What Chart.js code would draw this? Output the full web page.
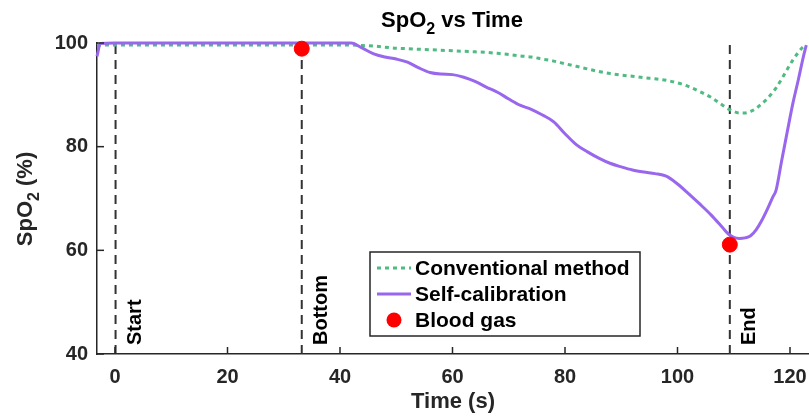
<!DOCTYPE html>
<html>
<head>
<meta charset="utf-8">
<script src="https://cdn.jsdelivr.net/npm/chart.js@4.4.1/dist/chart.umd.min.js"></script>
<style>body{margin:0;background:#fff}</style>
</head>
<body>
<canvas id="c" width="809" height="419"></canvas>
<script>
// time axis (s), shared by both SpO2 traces
const timeS = [-3.2, -2.6, 0, 10, 20, 30, 40, 42, 44, 46, 48, 50, 52, 54, 56, 58, 60, 62, 64, 66, 68, 70, 72, 74, 76, 78, 80, 82, 84, 86, 88, 90, 92, 94, 96, 98, 100, 102, 104, 106, 108, 109, 110, 111, 112, 113, 114, 115, 116, 117, 117.5, 118.5, 119.5, 120.5, 121.5, 122.3, 122.9];
const conventional = [99.5, 99.6, 99.6, 99.6, 99.6, 99.6, 99.6, 99.6, 99.5, 99.4, 99.2, 99.0, 98.9, 98.8, 98.7, 98.6, 98.5, 98.4, 98.3, 98.2, 98.0, 97.8, 97.5, 97.3, 96.9, 96.5, 96.0, 95.5, 95.0, 94.5, 94.1, 93.8, 93.6, 93.3, 93.1, 92.8, 92.3, 91.6, 90.6, 89.5, 88.0, 87.3, 86.8, 86.5, 86.5, 86.8, 87.4, 88.3, 89.3, 90.6, 91.3, 93.0, 94.9, 96.7, 98.2, 99.2, 99.6];
const selfCal = [97.4, 99.9, 100, 100, 100, 100, 100, 100, 99.0, 97.9, 97.3, 96.9, 96.3, 95.2, 94.3, 94.0, 93.9, 93.4, 92.6, 91.5, 90.5, 89.2, 88.0, 87.2, 86.1, 84.8, 82.5, 80.4, 79.0, 77.8, 76.8, 76.1, 75.5, 75.1, 74.8, 74.3, 72.8, 70.9, 68.9, 66.8, 64.4, 63.2, 62.5, 62.3, 62.4, 62.8, 64.0, 65.8, 68.0, 70.4, 71.5, 77.2, 82.8, 88.3, 93.0, 97.0, 99.6];
const bloodTimes = [33.2, 109.3];
const bloodValues = [98.9, 61.1];
const eventTimes = [0.1, 33.2, 109.3];
const eventLabels = ['Start', 'Bottom', 'End'];
const xTicks = [0, 20, 40, 60, 80, 100, 120];
const yTicks = [40, 60, 80, 100];

const FONT = '"Liberation Sans", Arial, Helvetica, sans-serif';
const AXIS = '#262626';
const GREEN = '#4fbb82';
const PURPLE = '#9966ee';

const pts = (xs, ys) => xs.map((v, i) => ({x: v, y: ys[i]}));

// text with a subscript part: parts = [main, sub, main, ...]
function drawSub(ctx, parts, cx, cy, size) {
  const big = 'bold ' + size + 'px ' + FONT;
  const small = 'bold ' + Math.round(size * 0.72) + 'px ' + FONT;
  let total = 0;
  parts.forEach((p, i) => { ctx.font = i % 2 ? small : big; total += ctx.measureText(p).width; });
  let x = cx - total / 2;
  ctx.textAlign = 'left';
  ctx.textBaseline = 'alphabetic';
  parts.forEach((p, i) => {
    ctx.font = i % 2 ? small : big;
    ctx.fillText(p, x, cy + (i % 2 ? size * 0.3 : 0));
    x += ctx.measureText(p).width;
  });
}

const extras = {
  id: 'extras',
  afterDraw(chart) {
    const {ctx, chartArea: a, scales: {x, y}} = chart;
    ctx.save();
    // inward ticks like matlab
    ctx.strokeStyle = AXIS;
    ctx.lineWidth = 1.5;
    xTicks.forEach(t => {
      const px = x.getPixelForValue(t);
      ctx.beginPath(); ctx.moveTo(px, a.bottom); ctx.lineTo(px, a.bottom - 7); ctx.stroke();
    });
    yTicks.forEach(t => {
      const py = y.getPixelForValue(t);
      ctx.beginPath(); ctx.moveTo(a.left, py); ctx.lineTo(a.left + 7, py); ctx.stroke();
    });

    // event labels next to the dashed lines
    ctx.fillStyle = '#000';
    ctx.font = 'bold 20px ' + FONT;
    eventTimes.forEach((t, i) => {
      ctx.save();
      ctx.translate(x.getPixelForValue(t) + 25, 345);
      ctx.rotate(-Math.PI / 2);
      ctx.textAlign = 'left';
      ctx.textBaseline = 'alphabetic';
      ctx.fillText(eventLabels[i], 0, 0);
      ctx.restore();
    });

    // titles
    ctx.fillStyle = '#000';
    drawSub(ctx, ['SpO', '2', ' vs Time'], 452, 27, 22);
    ctx.fillStyle = AXIS;
    ctx.font = 'bold 22px ' + FONT;
    ctx.textAlign = 'center';
    ctx.fillText('Time (s)', 453, 408);
    ctx.save();
    ctx.translate(32, 199);
    ctx.rotate(-Math.PI / 2);
    drawSub(ctx, ['SpO', '2', ' (%)'], 0, 0, 22);
    ctx.restore();

    // legend
    const lx = 370, ly = 252, lw = 270, lh = 84;
    ctx.fillStyle = '#fff';
    ctx.fillRect(lx, ly, lw, lh);
    ctx.strokeStyle = AXIS;
    ctx.lineWidth = 1.5;
    ctx.strokeRect(lx, ly, lw, lh);
    const rows = [268, 294, 320];
    const ds = chart.data.datasets;
    [ds[0], ds[1]].forEach((d, i) => {
      ctx.strokeStyle = d.borderColor;
      ctx.lineWidth = d.borderWidth;
      ctx.setLineDash(d.borderDash || []);
      ctx.beginPath(); ctx.moveTo(377, rows[i]); ctx.lineTo(411, rows[i]); ctx.stroke();
    });
    ctx.setLineDash([]);
    ctx.fillStyle = ds[2].backgroundColor;
    ctx.beginPath(); ctx.arc(394, rows[2], 7.5, 0, Math.PI * 2); ctx.fill();
    ctx.fillStyle = '#000';
    ctx.font = 'bold 21px ' + FONT;
    ctx.textAlign = 'left';
    ctx.textBaseline = 'middle';
    [ds[0], ds[1], ds[2]].forEach((d, i) => ctx.fillText(d.label, 415, rows[i] + 1));
    ctx.restore();
  }
};

const eventSets = eventTimes.map(t => ({
  label: 'event',
  data: [{x: t, y: 40}, {x: t, y: 100}],
  borderColor: '#333333',
  borderWidth: 2,
  borderDash: [9, 6],
  pointRadius: 0,
  order: 3
}));

new Chart(document.getElementById('c'), {
  type: 'line',
  data: {
    datasets: [{
      label: 'Conventional method',
      data: pts(timeS, conventional),
      borderColor: GREEN,
      borderWidth: 3,
      borderDash: [4, 4],
      pointRadius: 0,
      cubicInterpolationMode: 'monotone',
      clip: 6,
      order: 2
    }, {
      label: 'Self-calibration',
      data: pts(timeS, selfCal),
      borderColor: PURPLE,
      borderWidth: 3,
      pointRadius: 0,
      cubicInterpolationMode: 'monotone',
      clip: 6,
      order: 1
    }, {
      label: 'Blood gas',
      data: pts(bloodTimes, bloodValues),
      showLine: false,
      backgroundColor: '#ff0000',
      borderColor: '#ff0000',
      pointRadius: 7.5,
      clip: 10,
      order: 0
    }, ...eventSets]
  },
  options: {
    responsive: false,
    animation: false,
    layout: {autoPadding: false, padding: {top: 43, right: 1, left: 0, bottom: 0}},
    plugins: {legend: {display: false}, tooltip: {enabled: false}, title: {display: false}},
    scales: {
      x: {
        type: 'linear',
        min: -3.2,
        max: 123.2,
        afterBuildTicks: s => { s.ticks = xTicks.map(v => ({value: v})); },
        afterFit: s => { s.height = 65; s.paddingLeft = 0; s.paddingRight = 0; },
        grid: {drawOnChartArea: false, drawTicks: false},
        border: {color: AXIS, width: 1.5},
        ticks: {color: AXIS, padding: 11, font: {family: FONT, size: 20, weight: 'bold'}}
      },
      y: {
        min: 40,
        max: 100,
        afterBuildTicks: s => { s.ticks = yTicks.map(v => ({value: v})); },
        afterFit: s => { s.width = 97; s.paddingTop = 0; s.paddingBottom = 0; },
        grid: {drawOnChartArea: false, drawTicks: false},
        border: {color: AXIS, width: 1.5},
        ticks: {color: AXIS, padding: 9, font: {family: FONT, size: 20, weight: 'bold'}}
      }
    }
  },
  plugins: [extras]
});
</script>
</body>
</html>
